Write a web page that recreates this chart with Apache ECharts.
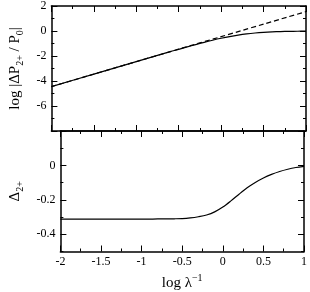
<!DOCTYPE html>
<html><head><meta charset="utf-8">
<script src="https://cdn.jsdelivr.net/npm/echarts@6/dist/echarts.min.js"></script>
<style>html,body{margin:0;padding:0;background:#fff}#c{width:310px;height:292px}</style>
</head><body><div id="c"></div>
<script>
// x values: log(1/lambda)
const xVals = [-2, -1.5, -1, -0.8, -0.6, -0.5, -0.4, -0.3, -0.2, -0.1, 0, 0.1, 0.2, 0.3, 0.4, 0.5, 0.6, 0.7, 0.8, 0.9, 1];
// top panel: log|dP2+/P0| (solid)
const logDP = [-4.45, -3.45, -2.45, -2.05, -1.65, -1.465, -1.274, -1.087, -0.907, -0.738, -0.582, -0.444, -0.327, -0.232, -0.160, -0.108, -0.071, -0.046, -0.030, -0.019, -0.012];
// top panel: asymptotic line (dashed)
const asymX = [-2, 1];
const asymY = [-4.45, 1.55];
// bottom panel: Delta_2+
const delta = [-0.312, -0.312, -0.312, -0.311, -0.310, -0.309, -0.305, -0.298, -0.288, -0.270, -0.242, -0.206, -0.167, -0.130, -0.099, -0.073, -0.052, -0.035, -0.022, -0.012, -0.005];
// ticks
const xTicks = {min: -2, max: 1, interval: 0.5};
const yTopTicks = {min: -8, max: 2, interval: 2};
const yBotMajor = [-0.4, -0.2, 0, 0.2];
const yBotMinor = [-0.5, -0.3, -0.1, 0.1];
const yBotLabels = [-0.4, -0.2, 0];

const FONT = "'Liberation Serif', 'Times New Roman', serif";
const LINE = {show: true, onZero: false, lineStyle: {color: '#000', width: 1.5}};
const NOLINE = {show: false, onZero: false};

function xAx(grid, pos, labels, name) {
  const a = {
    type: 'value', gridIndex: grid, position: pos,
    min: xTicks.min, max: xTicks.max, interval: xTicks.interval,
    axisLine: LINE,
    axisTick: {show: true, inside: true, length: 6, lineStyle: {color: '#000', width: 1}},
    minorTick: {show: true, splitNumber: 2, length: 3, lineStyle: {color: '#000', width: 1}},
    splitLine: {show: false},
    axisLabel: {show: labels, color: '#000', fontFamily: FONT, fontSize: 12, margin: 4,
      formatter: v => String(v)}
  };
  if (name) {
    a.name = '{n|log λ}{sup|−1}';
    a.nameLocation = 'middle';
    a.nameGap = 22;
    a.nameTextStyle = {color: '#000', fontFamily: FONT,
      rich: {n: {fontSize: 15, fontFamily: FONT, color: '#000'},
             sup: {fontSize: 10, fontFamily: FONT, color: '#000', padding: [0, 0, 10, 0]}}};
  }
  return a;
}

const option = {
  animation: false,
  backgroundColor: '#fff',
  grid: [
    {left: 37, right: 4, top: 6, height: 125},
    {left: 37, right: 4, top: 131, height: 127}
  ],
  xAxis: [
    xAx(0, 'bottom', false),
    xAx(0, 'top', false),
    xAx(1, 'bottom', true, true),
    xAx(1, 'top', false)
  ],
  yAxis: [
    {
      type: 'value', gridIndex: 0, position: 'left',
      min: yTopTicks.min, max: yTopTicks.max, interval: yTopTicks.interval,
      axisLine: LINE,
      axisTick: {show: true, inside: true, length: 6, lineStyle: {color: '#000', width: 1}},
      minorTick: {show: true, splitNumber: 2, length: 3, lineStyle: {color: '#000', width: 1}},
      splitLine: {show: false},
      axisLabel: {color: '#000', fontFamily: FONT, fontSize: 12, margin: 5,
        formatter: v => (v === -8 ? '' : String(v))},
      name: '{n|log |ΔP}{sub|2+}{n| / P}{sub|0}{n||}',
      nameLocation: 'middle', nameGap: 20, nameRotate: 90,
      nameTextStyle: {color: '#000', fontFamily: FONT,
        rich: {n: {fontSize: 15, fontFamily: FONT, color: '#000'},
               sub: {fontSize: 10, fontFamily: FONT, color: '#000', padding: [10, 0, 0, 0]}}}
    },
    {
      type: 'value', gridIndex: 0, position: 'right',
      min: yTopTicks.min, max: yTopTicks.max, interval: yTopTicks.interval,
      axisLine: LINE,
      axisTick: {show: true, inside: true, length: 6, lineStyle: {color: '#000', width: 1}},
      minorTick: {show: true, splitNumber: 2, length: 3, lineStyle: {color: '#000', width: 1}},
      splitLine: {show: false}, axisLabel: {show: false}
    },
    {
      type: 'value', gridIndex: 1, position: 'left',
      min: -0.5, max: 0.2, interval: 0.1,
      axisLine: LINE,
      axisTick: {show: true, inside: true, length: 6, customValues: yBotMajor, lineStyle: {color: '#000', width: 1}},
      splitLine: {show: false},
      axisLabel: {color: '#000', fontFamily: FONT, fontSize: 12, margin: 5, customValues: yBotLabels,
        formatter: v => String(Math.round(v * 10) / 10)},
      name: '{n|Δ}{sub|2+}',
      nameLocation: 'middle', nameGap: 20, nameRotate: 90,
      nameTextStyle: {color: '#000', fontFamily: FONT,
        rich: {n: {fontSize: 15, fontFamily: FONT, color: '#000'},
               sub: {fontSize: 10, fontFamily: FONT, color: '#000', padding: [10, 0, 0, 0]}}}
    },
    {
      type: 'value', gridIndex: 1, position: 'left',
      min: -0.5, max: 0.2, interval: 0.1,
      axisLine: NOLINE,
      axisTick: {show: true, inside: true, length: 3, customValues: yBotMinor, lineStyle: {color: '#000', width: 1}},
      splitLine: {show: false}, axisLabel: {show: false}
    },
    {
      type: 'value', gridIndex: 1, position: 'right',
      min: -0.5, max: 0.2, interval: 0.1,
      axisLine: LINE,
      axisTick: {show: true, inside: true, length: 6, customValues: yBotMajor, lineStyle: {color: '#000', width: 1}},
      splitLine: {show: false}, axisLabel: {show: false}
    },
    {
      type: 'value', gridIndex: 1, position: 'right',
      min: -0.5, max: 0.2, interval: 0.1,
      axisLine: NOLINE,
      axisTick: {show: true, inside: true, length: 3, customValues: yBotMinor, lineStyle: {color: '#000', width: 1}},
      splitLine: {show: false}, axisLabel: {show: false}
    }
  ],
  series: [
    {
      type: 'line', xAxisIndex: 0, yAxisIndex: 0, showSymbol: false, smooth: 0.3,
      lineStyle: {color: '#000', width: 1.2, type: [5, 3]},
      data: asymX.map((x, i) => [x, asymY[i]])
    },
    {
      type: 'line', xAxisIndex: 0, yAxisIndex: 0, showSymbol: false, smooth: 0.3,
      lineStyle: {color: '#000', width: 1.2},
      data: xVals.map((x, i) => [x, logDP[i]])
    },
    {
      type: 'line', xAxisIndex: 2, yAxisIndex: 2, showSymbol: false, smooth: 0.3,
      lineStyle: {color: '#000', width: 1.2},
      data: xVals.map((x, i) => [x, delta[i]])
    }
  ]
};
const chart = echarts.init(document.getElementById('c'), null, {renderer: 'canvas'});
chart.setOption(option);
</script>
</body></html>
